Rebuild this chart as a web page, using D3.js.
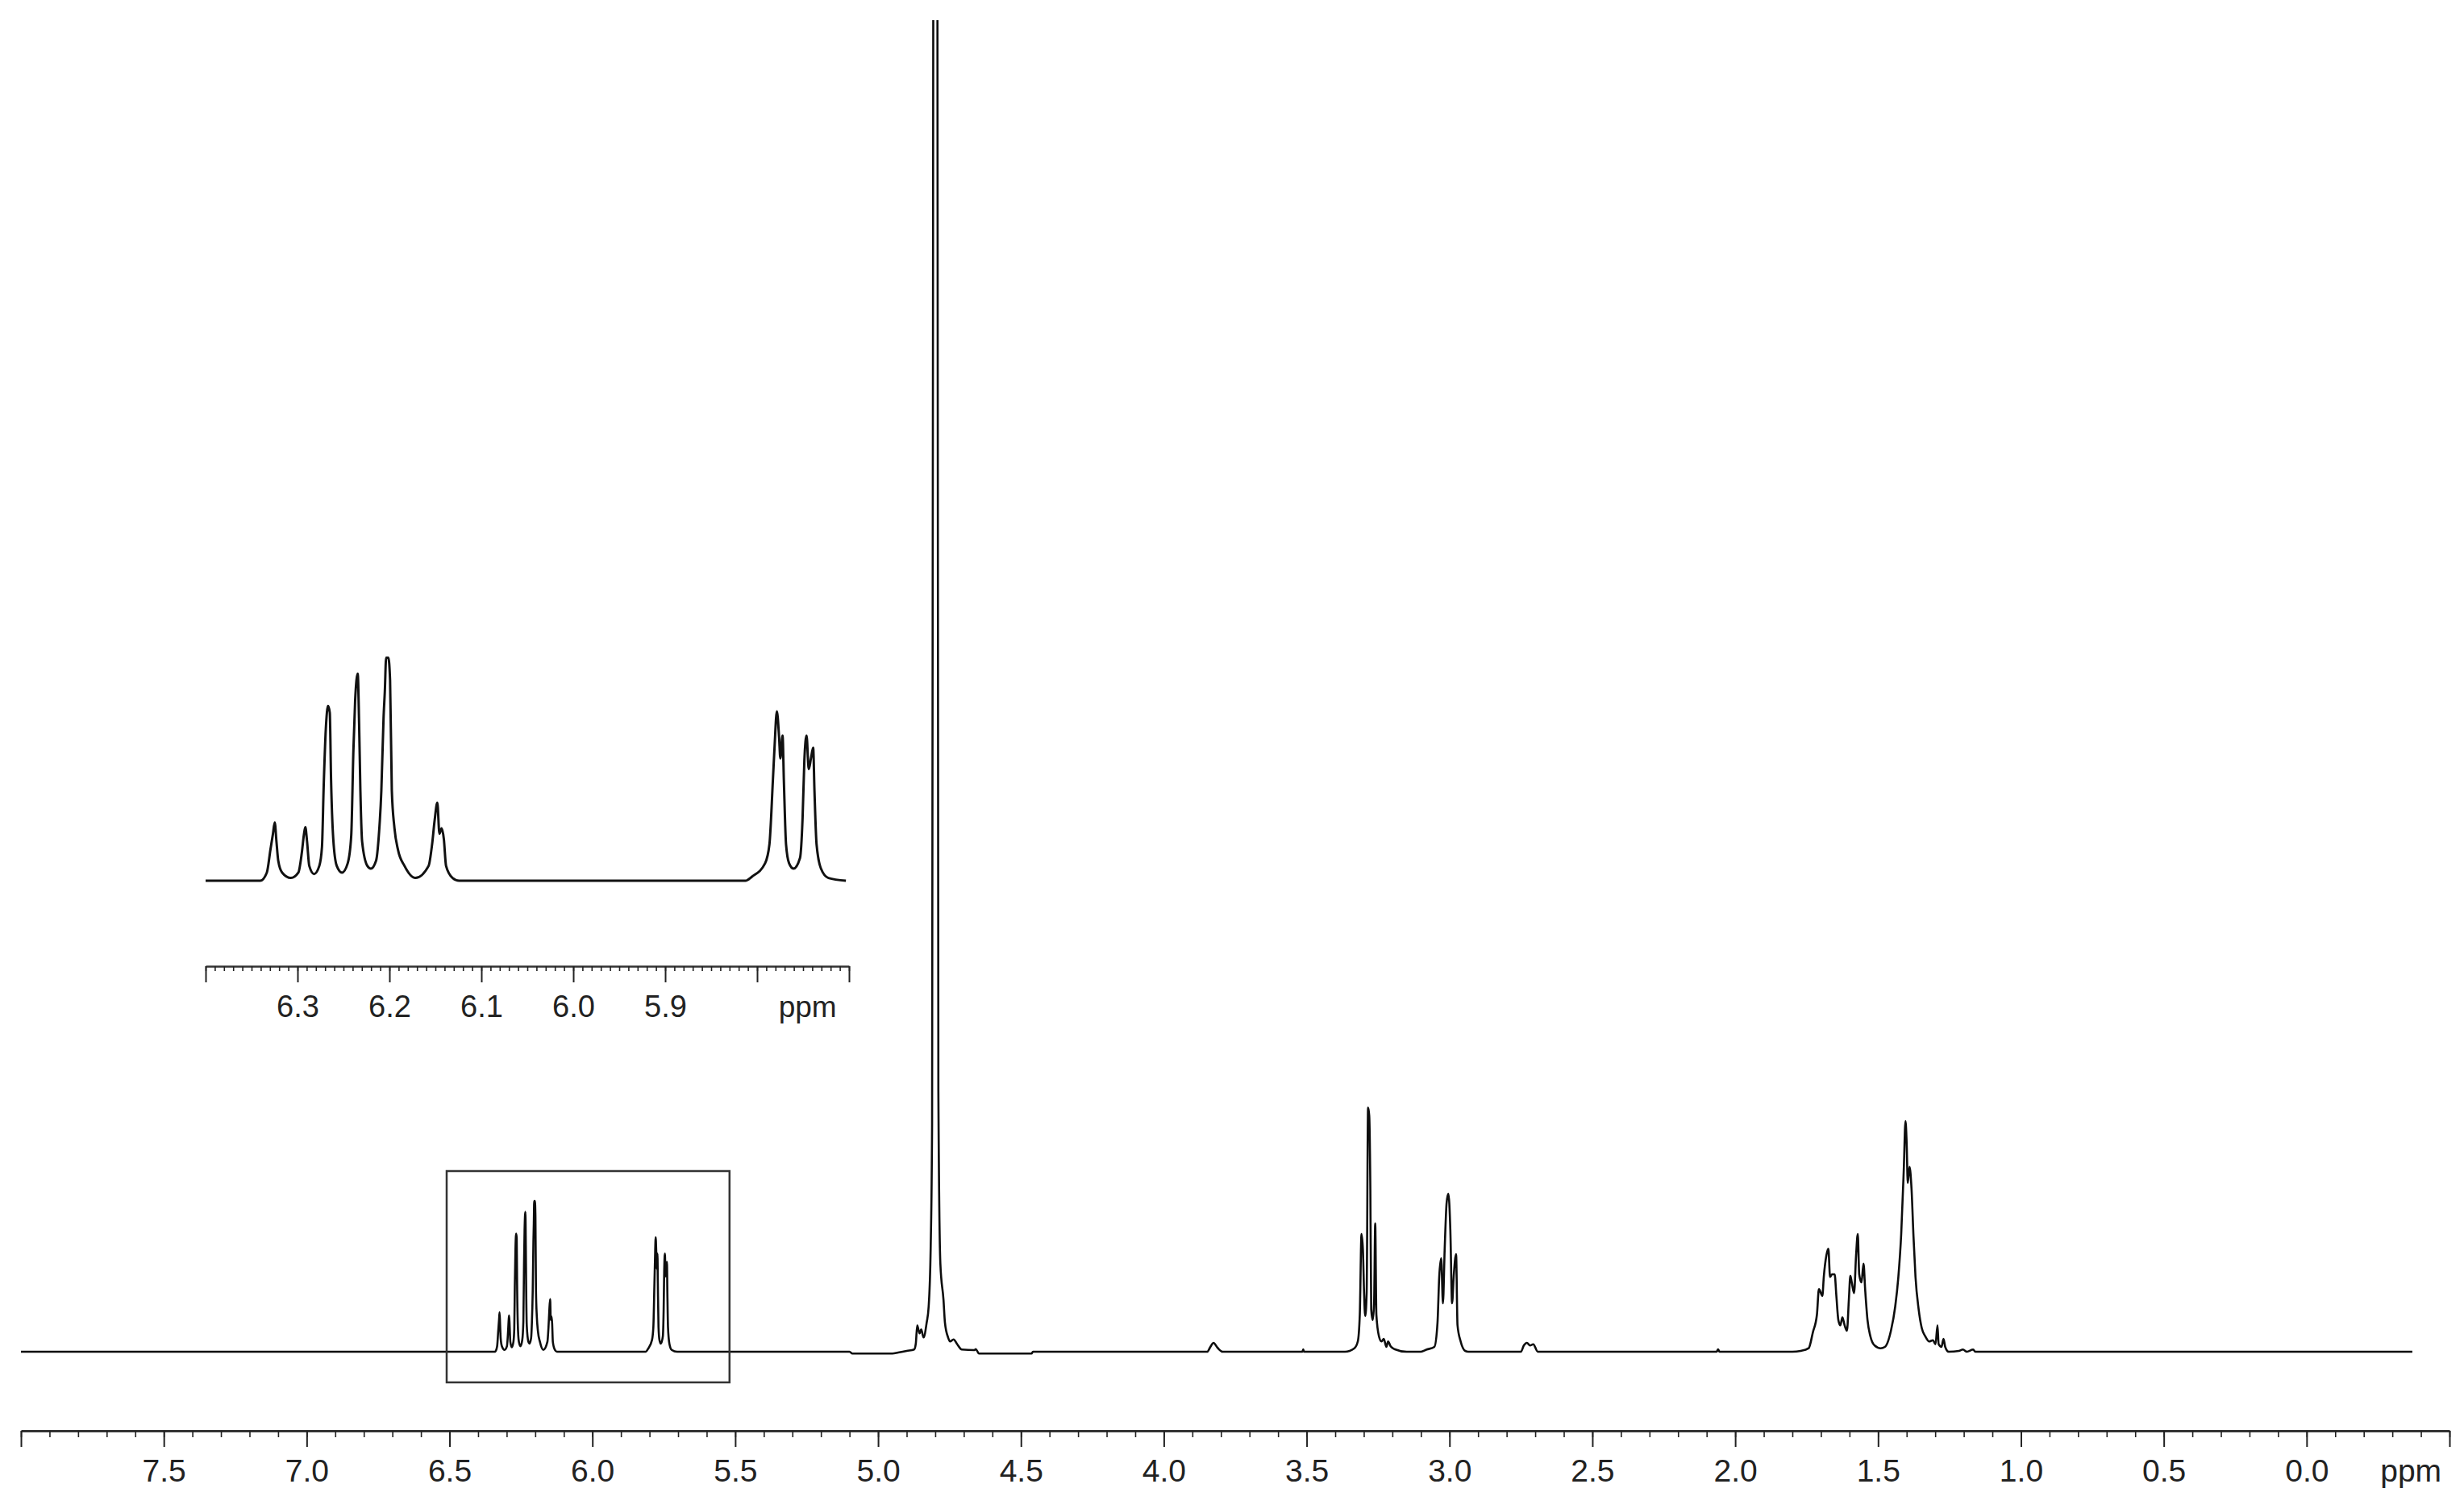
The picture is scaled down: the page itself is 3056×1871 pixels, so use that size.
<!DOCTYPE html>
<html><head><meta charset="utf-8">
<script src="https://cdn.jsdelivr.net/npm/d3@7"></script>
<style>html,body{margin:0;padding:0;background:#fff;} svg{display:block;}</style>
</head><body>
<script>
// ---------------- DATA ----------------
// chemical shift (ppm), descending
const ppmValues = [
 8.00, 6.40,
 6.3405,6.3334,6.3295,6.3267,6.3248,6.3229,6.3210,6.3167,6.3072,
 6.2991,6.2953,6.2929,6.2915,6.2896,6.2872,6.2820,
 6.2763,6.2734,6.2715,6.2692,6.2668,6.2649,6.2635,6.2611,6.2573,6.2516,
 6.2454,6.2416,6.2392,6.2373,6.2345,6.2330,6.2316,6.2297,6.2240,6.2202,
 6.2145,6.2116,6.2088,6.2064,6.2050,6.2036,6.2012,6.1993,6.1974,6.1945,6.1907,6.1836,6.1717,
 6.1574,6.1536,6.1508,6.1479,6.1456,6.1432,6.1408,6.1384,6.1313,6.1242,
 5.8127,5.8056,5.7913,5.7866,5.7828,5.7809,5.7785,5.7761,5.7747,5.7723,5.7709,5.7685,5.7652,5.7604,
 5.7533,5.7505,5.7486,5.7462,5.7438,5.7414,5.7390,5.7376,5.7353,5.7305,5.7224,5.7034,
 5.138,5.100,5.090,4.950,4.930,4.900,4.874,4.868,4.863,4.855,4.849,4.841,4.830,4.823,4.816,4.811,
 4.806,4.800,4.793,4.789,4.782,4.771,4.766,4.755,4.748,4.736,4.723,4.707,4.663,4.658,4.647,4.463,4.458,
 3.848,3.837,3.826,3.812,3.794,3.515,3.512,3.509,
 3.366,3.333,3.321,3.314,3.308,3.303,3.299,3.295,3.290,3.285,3.281,3.277,3.274,3.269,3.264,3.260,3.256,
 3.247,3.238,3.230,3.221,3.215,3.206,3.193,3.150,
 3.100,3.080,3.053,3.042,3.036,3.029,3.023,3.017,3.010,3.004,2.997,2.991,2.985,2.977,2.972,2.961,2.945,2.934,
 2.750,2.740,2.729,2.718,2.707,2.691,2.065,2.060,2.055,
 1.800,1.771,1.743,1.728,1.714,1.707,1.695,1.690,1.681,1.674,1.668,1.661,1.652,1.646,1.639,1.632,1.625,1.617,1.609,
 1.602,1.597,1.592,1.584,1.577,1.571,1.566,1.558,1.551,1.545,1.537,1.527,1.512,1.491,1.476,
 1.455,1.440,1.429,1.419,1.410,1.404,1.400,1.396,1.390,1.383,1.376,1.369,1.358,1.347,1.335,1.321,1.308,1.299,
 1.292,1.288,1.278,1.271,1.265,1.253,1.217,1.203,1.189,1.167,1.160,
 -0.37
];
// intensity (arbitrary units), same order as ppmValues
const intensityValues = [
 0, 0,
 0,6.8,25.9,39.4,48.9,32.7,16.9,6.8,2.3,
 6.8,23.6,39.4,45.0,32.7,12.4,5.6,
 12.4,28.2,80.0,127.3,146.4,140.8,84.5,34.9,12.4,6.8,
 14.6,37.2,109.2,150.9,173.4,131.8,75.5,32.7,12.4,10.1,
 16.9,37.2,75.5,136.3,158.8,186.9,186.9,167.8,75.5,43.9,25.9,12.4,2.3,
 12.4,30.4,50.7,65.3,39.4,43.9,34.9,12.4,2.3,0,
 0,3.4,14.6,30.4,84.5,113.7,141.9,120.5,102.5,121.6,84.5,30.4,14.6,10.1,
 19.1,52.9,100.2,121.6,93.5,102.5,111.5,75.5,30.4,10.1,2.3,0,
 0,0,-2.3,-2.3,-1.0,1.0,2.7,10,32.7,22.7,27.7,17.7,36,56,127.7,281,
 2000,3000,2000,322.7,109,64,36,17.7,12.7,15.3,9.3,2.7,2.0,3.3,-2.3,-2.3,0,
 0,6,11,5,0,0,3,0,
 0,4.3,12.7,46,146,126,72.7,44.3,72.7,302.7,292.7,200,52.7,39.3,59.3,159.3,46,
 19.3,12.7,16,6,12.7,6.7,3.3,0,
 0,2.7,6,36,92.7,116,60,126,185,196,150,60,95,121,33,12.7,1,0,
 0,7.7,11,7.7,9.3,0,0,3,0,
 0,1,4.3,24.3,46,77.7,69.3,92.7,119.3,127.7,92.7,96,96,69.3,39.3,32.7,42.7,32.7,26,
 66,94.3,86,72.7,119.3,146,96,86,109.3,76,39.3,19.3,7.7,4.3,6,
 26,56,92.7,146,226,286,259.3,209.3,229.3,202.7,142.7,92.7,52.7,29.3,19.3,12.7,14.3,9.3,
 32.7,9.3,6,16,6,0,1,2.7,0,2.7,0,
 0
];

// main axis
const mainDomain = [8.0, -0.5];
const mainMajorTicks = [8.0,7.5,7.0,6.5,6.0,5.5,5.0,4.5,4.0,3.5,3.0,2.5,2.0,1.5,1.0,0.5,0.0,-0.5];
const mainTickLabels = ["","7.5","7.0","6.5","6.0","5.5","5.0","4.5","4.0","3.5","3.0","2.5","2.0","1.5","1.0","0.5","0.0",""];
const mainMinorStep = 0.1;
const mainUnitLabel = "ppm";

// inset axis
const insetDomain = [6.40, 5.70];
const insetMajorTicks = [6.4,6.3,6.2,6.1,6.0,5.9,5.8,5.7];
const insetTickLabels = ["","6.3","6.2","6.1","6.0","5.9","",""];
const insetMinorStep = 0.01;
const insetUnitLabel = "ppm";

// region of the main spectrum shown in the inset (box)
const insetBoxPpm = [6.51, 5.52];
const insetBoxIntensity = [-38, 224];

// ---------------- LAYOUT ----------------
const W = 3056, H = 1871;
const FONT = "'Liberation Sans', Arial, Helvetica, sans-serif";
const main = {x0: 26, x1: 3038, base: 1676, top: 25, axisY: 1774};
const inset = {x0: 255, x1: 1053, base: 1092, gain: 1.48, axisY: 1198};

const data = ppmValues.map((p, i) => ({ppm: p, v: intensityValues[i]}));

const svg = d3.select("body").append("svg").attr("width", W).attr("height", H)
  .attr("viewBox", `0 0 ${W} ${H}`);

const xMain = d3.scaleLinear().domain(mainDomain).range([main.x0, main.x1]);
const yMain = d3.scaleLinear().domain([0, main.base - main.top]).range([main.base, main.top]);

const xInset = d3.scaleLinear().domain(insetDomain).range([inset.x0, inset.x1]);
const yInset = d3.scaleLinear().domain([0, 100]).range([inset.base, inset.base - 100 * inset.gain]);

const defs = svg.append("defs");
defs.append("clipPath").attr("id", "clipMain").append("rect")
  .attr("x", 0).attr("y", main.top).attr("width", W).attr("height", H - main.top);
defs.append("clipPath").attr("id", "clipInset").append("rect")
  .attr("x", inset.x0).attr("y", 0).attr("width", inset.x1 - inset.x0).attr("height", H);

// ---- main spectrum ----
const lineMain = d3.line().x(d => xMain(d.ppm)).y(d => yMain(d.v)).curve(d3.curveMonotoneX);
svg.append("path").datum(data).attr("clip-path", "url(#clipMain)")
  .attr("d", lineMain).attr("fill", "none").attr("stroke", "#0d0d0d")
  .attr("stroke-width", 2.6).attr("stroke-linejoin", "round");

// ---- inset box on main spectrum ----
svg.append("rect")
  .attr("x", xMain(insetBoxPpm[0])).attr("y", yMain(insetBoxIntensity[1]))
  .attr("width", xMain(insetBoxPpm[1]) - xMain(insetBoxPpm[0]))
  .attr("height", yMain(insetBoxIntensity[0]) - yMain(insetBoxIntensity[1]))
  .attr("fill", "none").attr("stroke", "#333").attr("stroke-width", 2.5);

// ---- axis helper ----
function drawAxis(scale, y, majors, labels, minorStep, majorLen, minorLen, fontSize, labelBase, lineW) {
  const dom = scale.domain();
  const lo = Math.min(dom[0], dom[1]), hi = Math.max(dom[0], dom[1]);
  const n = Math.round((hi - lo) / minorStep);
  const minors = d3.range(0, n + 1).map(i => +(hi - i * minorStep).toFixed(4));
  const gMinor = svg.append("g").attr("transform", `translate(0,${y})`)
    .call(d3.axisBottom(scale).tickValues(minors).tickSize(minorLen).tickSizeOuter(0).tickFormat(""));
  gMinor.select(".domain").attr("stroke", "#333").attr("stroke-width", lineW);
  gMinor.selectAll(".tick line").attr("stroke", "#222").attr("stroke-width", 1.6);
  const gMajor = svg.append("g").attr("transform", `translate(0,${y})`)
    .call(d3.axisBottom(scale).tickValues(majors).tickSize(majorLen).tickSizeOuter(0)
      .tickFormat((d, i) => labels[i]));
  gMajor.select(".domain").remove();
  gMajor.selectAll(".tick line").attr("stroke", "#222").attr("stroke-width", 2);
  gMajor.selectAll(".tick text").attr("y", labelBase).attr("dy", 0)
    .attr("font-family", FONT).attr("font-size", fontSize).attr("fill", "#222");
}

drawAxis(xMain, main.axisY, mainMajorTicks, mainTickLabels, mainMinorStep, 20, 8, 39, 63, 3);
svg.append("text").attr("x", xMain(-0.365)).attr("y", main.axisY + 63)
  .attr("text-anchor", "middle").attr("font-family", FONT).attr("font-size", 39)
  .attr("fill", "#222").text(mainUnitLabel);

// ---- inset spectrum ----
const insetData = data.filter(d => d.ppm <= insetDomain[0] + 0.02 && d.ppm >= insetDomain[1] - 0.02);
const lineInset = d3.line().x(d => xInset(d.ppm)).y(d => yInset(d.v)).curve(d3.curveMonotoneX);
svg.append("path").datum(insetData).attr("clip-path", "url(#clipInset)")
  .attr("d", lineInset).attr("fill", "none").attr("stroke", "#111")
  .attr("stroke-width", 3).attr("stroke-linejoin", "round");

drawAxis(xInset, inset.axisY, insetMajorTicks, insetTickLabels, insetMinorStep, 20, 6, 38, 63, 2.5);
svg.append("text").attr("x", xInset(5.745)).attr("y", inset.axisY + 63)
  .attr("text-anchor", "middle").attr("font-family", FONT).attr("font-size", 37)
  .attr("fill", "#222").text(insetUnitLabel);
</script>
</body></html>
